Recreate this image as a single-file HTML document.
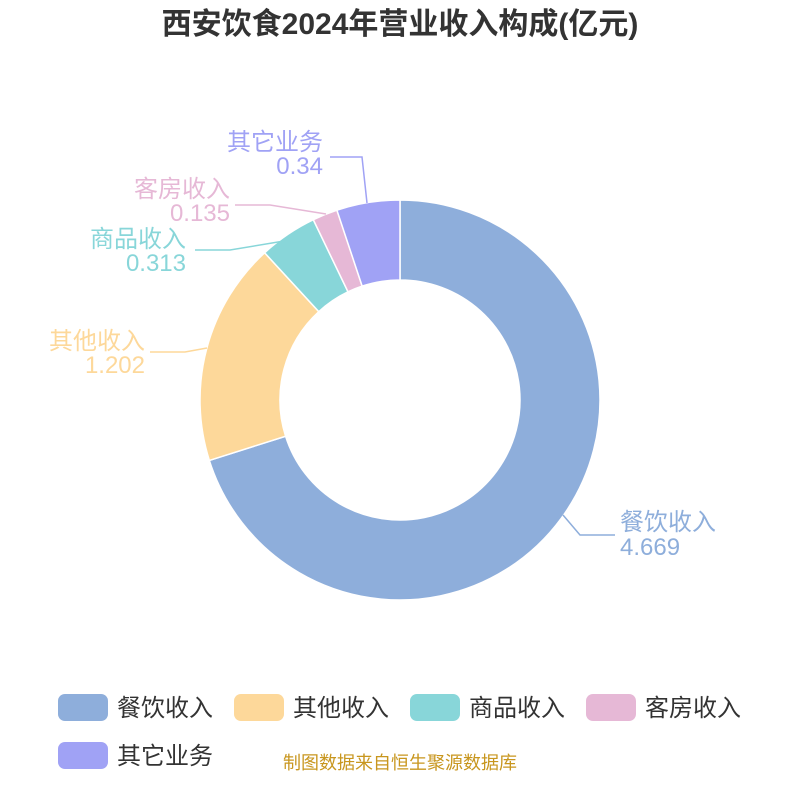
<!DOCTYPE html>
<html><head><meta charset="utf-8"><style>
body{margin:0;background:#fff;font-family:"Liberation Sans","Noto Sans CJK SC",sans-serif}
</style></head><body>
<svg width="800" height="800" xmlns="http://www.w3.org/2000/svg" font-family="Liberation Sans, Noto Sans CJK SC, sans-serif">
<rect width="800" height="800" fill="#fff"/>
<text x="400" y="34" text-anchor="middle" font-size="30" font-weight="bold" fill="#333">西安饮食2024年营业收入构成(亿元)</text>
<g id="pie"></g>
<g fill="none" stroke-width="1.5">
<polyline points="563,515 580,535 615,535" stroke="#8eaedb"/>
<polyline points="207,348 185,352 150,352" stroke="#fdd89a"/>
<polyline points="290,240 230,250 195,250" stroke="#88d6d9"/>
<polyline points="326,214 270,205 235,205" stroke="#e6b8d6"/>
<polyline points="367,203 362,157 330,157" stroke="#a0a2f5"/>
</g>
<g font-size="24">
<text x="620" y="530" fill="#8eaedb">餐饮收入</text>
<text x="620" y="555" fill="#8eaedb">4.669</text>
<text x="145" y="349" text-anchor="end" fill="#fdd89a">其他收入</text>
<text x="145" y="373" text-anchor="end" fill="#fdd89a">1.202</text>
<text x="186" y="247" text-anchor="end" fill="#88d6d9">商品收入</text>
<text x="186" y="271" text-anchor="end" fill="#88d6d9">0.313</text>
<text x="230" y="197" text-anchor="end" fill="#e6b8d6">客房收入</text>
<text x="230" y="221" text-anchor="end" fill="#e6b8d6">0.135</text>
<text x="323" y="150" text-anchor="end" fill="#a0a2f5">其它业务</text>
<text x="323" y="174" text-anchor="end" fill="#a0a2f5">0.34</text>
</g>
<g font-size="24" fill="#333">
<rect x="58" y="694" width="50" height="27" rx="7" fill="#8eaedb"/><text x="117" y="716">餐饮收入</text>
<rect x="234" y="694" width="50" height="27" rx="7" fill="#fdd89a"/><text x="293" y="716">其他收入</text>
<rect x="410" y="694" width="50" height="27" rx="7" fill="#88d6d9"/><text x="469" y="716">商品收入</text>
<rect x="586" y="694" width="50" height="27" rx="7" fill="#e6b8d6"/><text x="645" y="716">客房收入</text>
<rect x="58" y="742" width="50" height="27" rx="7" fill="#a0a2f5"/><text x="117" y="764">其它业务</text>
</g>
<text x="400" y="769" text-anchor="middle" font-size="18" fill="#c8961e">制图数据来自恒生聚源数据库</text>
</svg>
<script>
var v=[4.669,1.202,0.313,0.135,0.34],c=["#8eaedb","#fdd89a","#88d6d9","#e6b8d6","#a0a2f5"];
var t=v.reduce((a,b)=>a+b),a0=0,g=document.getElementById('pie'),R=200,r=120,cx=400,cy=400;
function p(rr,a){return [cx+rr*Math.sin(a),cy-rr*Math.cos(a)];}
v.forEach(function(x,i){var a1=a0+x/t*2*Math.PI,l=(a1-a0)>Math.PI?1:0;
var A=p(R,a0),B=p(R,a1),C=p(r,a1),D=p(r,a0);
var d="M"+A+" A"+R+","+R+" 0 "+l+" 1 "+B+" L"+C+" A"+r+","+r+" 0 "+l+" 0 "+D+" Z";
var e=document.createElementNS("http://www.w3.org/2000/svg","path");
e.setAttribute("d",d);e.setAttribute("fill",c[i]);e.setAttribute("stroke","#fff");e.setAttribute("stroke-width","1.5");g.appendChild(e);a0=a1;});
</script>
</body></html>
